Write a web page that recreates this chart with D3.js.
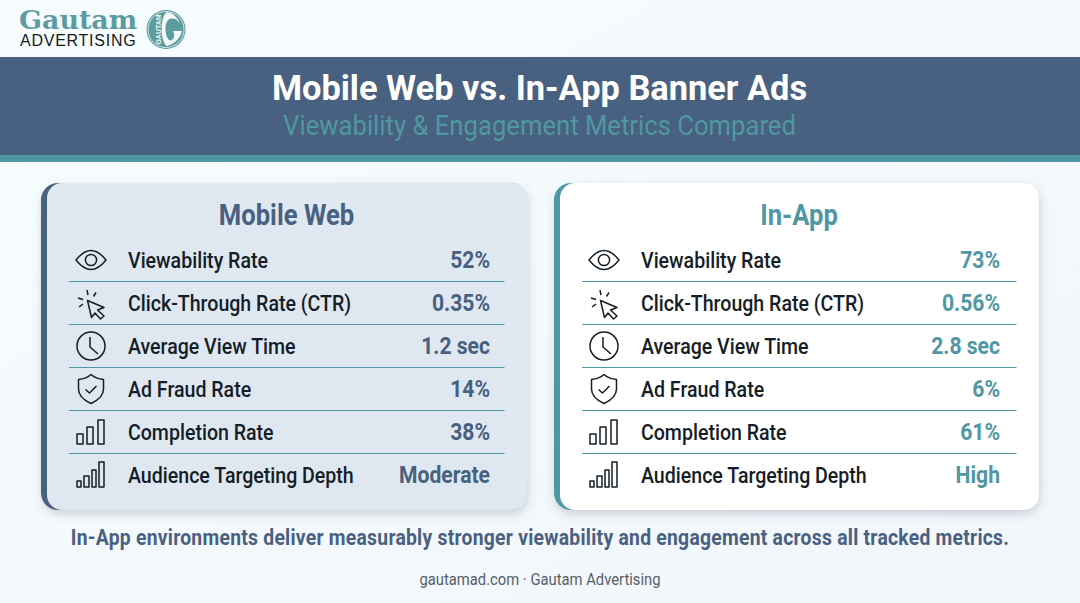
<!DOCTYPE html>
<html>
<head>
<meta charset="utf-8">
<script src="https://cdnjs.cloudflare.com/ajax/libs/d3/7.8.5/d3.min.js"></script>
<style>
  html, body { margin: 0; padding: 0; background: #f5fafd; }
  svg { display: block; font-family: Roboto, sans-serif; }
</style>
</head>
<body>
<script>
var metrics = ["Viewability Rate", "Click-Through Rate (CTR)", "Average View Time", "Ad Fraud Rate", "Completion Rate", "Audience Targeting Depth"];
var webValues = ["52%", "0.35%", "1.2 sec", "14%", "38%", "Moderate"];
var appValues = ["73%", "0.56%", "2.8 sec", "6%", "61%", "High"];
var iconNames = ["eye", "cursor", "clock", "shield", "bars3", "bars4"];
var panelNames = ["Mobile Web", "In-App"];

var w = 1080, h = 603;
var navy = "#486180", teal = "#5097a3", ink = "#151d26";

// icons are drawn around 0,0 in a box of about 30px
var icons = {
  eye: "M-15 0C-9 -7.5 -4.5 -9.5 0 -9.5C4.5 -9.5 9 -7.5 15 0C9 7.5 4.5 9.5 0 9.5C-4.5 9.5 -9 7.5 -15 0Z M5.6 0A5.6 5.6 0 1 1 -5.6 0A5.6 5.6 0 1 1 5.6 0Z",
  cursor: "M-3.5 -3.5L13 3.5L6.5 6L13 12L9.5 15L4 9L0.5 13.5Z M-13 -6L-8 -4.5 M-12 3L-8 0 M-4 -14L-3 -9 M5 -11.5L2.5 -7.5",
  clock: "M14 0A14 14 0 1 1 -14 0A14 14 0 1 1 14 0Z M-1 -9L-1 1L7 8",
  shield: "M0 -14.5C4 -11 8.5 -10 12.5 -9.5L12.5 0C12.5 7 6.5 11.5 0 14.5C-6.5 11.5 -12.5 7 -12.5 0L-12.5 -9.5C-8.5 -10 -4 -11 0 -14.5Z M-5.5 0.5L-1.5 4L5.5 -3",
  bars3: "M-14 2H-8V12H-14Z M-4 -5H2V12H-4Z M7 -12H13V12H7Z",
  bars4: "M-14 6H-10V12H-14Z M-7 1H-2V12H-7Z M1 -5H5V12H1Z M8 -13H13V12H8Z"
};

var svg = d3.select("body").append("svg")
  .attr("width", w)
  .attr("height", h)
  .attr("viewBox", "0 0 " + w + " " + h);

var defs = svg.append("defs");
var bg = defs.append("linearGradient").attr("id", "bg").attr("x1", 0).attr("y1", 0).attr("x2", 1).attr("y2", 1);
bg.append("stop").attr("offset", 0).attr("stop-color", "#f7fcfe");
bg.append("stop").attr("offset", 1).attr("stop-color", "#f1f6fb");
defs.append("filter").attr("id", "shadow")
  .attr("x", "-5%").attr("y", "-5%").attr("width", "110%").attr("height", "112%")
  .append("feDropShadow")
  .attr("dx", 1).attr("dy", 4).attr("stdDeviation", 5)
  .attr("flood-color", "#56677a").attr("flood-opacity", 0.28);

svg.append("rect").attr("width", w).attr("height", h).attr("fill", "url(#bg)");

// condensed look: Roboto squeezed sideways, anchor stays where it is
function label(g, x, y, str, o) {
  return g.append("text")
    .attr("transform", "translate(" + x + "," + y + ") scale(" + (o.sx || 1) + ",1)")
    .attr("text-anchor", o.anchor || "start")
    .attr("font-size", o.size)
    .attr("font-weight", o.weight || 400)
    .attr("font-family", o.family || null)
    .attr("letter-spacing", o.spacing || null)
    .attr("fill", o.fill)
    .text(str);
}

// logo
var logo = svg.append("g");
label(logo, 19, 28.5, "Gautam", { size: 26, weight: 700, family: "'DejaVu Serif', serif", fill: "#5c9ba0", sx: 1.035 });
label(logo, 20, 46, "ADVERTISING", { size: 16, family: "'Liberation Sans', sans-serif", fill: "#17191c", spacing: 0.75 });
logo.append("circle").attr("cx", 166).attr("cy", 29.5).attr("r", 19.5).attr("fill", "#5c9ba0");
logo.append("circle").attr("cx", 166).attr("cy", 29.5).attr("r", 18).attr("fill", "none").attr("stroke", "#eef6f6").attr("stroke-width", 0.8);
logo.append("path").attr("fill", "#f4f9f9")
  .attr("d", "M167 12C160 16 160 42 167 46C174 44 180 39 182 31L173 31C176 36 173 42 169 40C165 36 164 25 168 20C172 17 177 19 180 23C177 17 173 13 167 12Z");
logo.append("text")
  .attr("transform", "translate(161,29.5) rotate(-90)")
  .attr("text-anchor", "middle")
  .attr("font-size", 7)
  .attr("font-weight", 700)
  .attr("font-family", "'Liberation Sans', sans-serif")
  .attr("fill", "#f4f9f9")
  .text("GAUTAM");

// header band
svg.append("rect").attr("x", 0).attr("y", 57).attr("width", w).attr("height", 98).attr("fill", navy);
svg.append("rect").attr("x", 0).attr("y", 155).attr("width", w).attr("height", 7).attr("fill", teal);
label(svg, 539.5, 99.5, "Mobile Web vs. In-App Banner Ads", { size: 34.4, weight: 700, fill: "#ffffff", anchor: "middle" });
label(svg, 539.5, 134.5, "Viewability & Engagement Metrics Compared", { size: 28.5, fill: teal, anchor: "middle", sx: 0.9 });

var rowY = d3.scaleBand().domain(metrics).range([238.5, 496.5]);

var panelX = d3.scaleOrdinal().domain(panelNames).range([41, 554]);

function drawPanel(name, values, o) {
  var x0 = panelX(name);
  var g = svg.append("g").attr("transform", "translate(" + x0 + ",0)");
  g.append("rect").attr("x", 0).attr("y", 183).attr("width", o.width).attr("height", 327).attr("rx", 17)
    .attr("fill", o.accent).attr("filter", "url(#shadow)");
  g.append("rect").attr("x", 6).attr("y", 183).attr("width", o.width - 6).attr("height", 327).attr("rx", 15)
    .attr("fill", o.fill);

  label(g, o.headX, 225, name, { size: 30, weight: 700, fill: o.accent, anchor: "middle", sx: 0.855 });

  // separators between the rows
  g.selectAll("line.sep")
    .data(metrics.slice(1))
    .enter().append("line")
    .attr("class", "sep")
    .attr("x1", 28).attr("x2", o.width - 22.5)
    .attr("y1", function (d) { return rowY(d); })
    .attr("y2", function (d) { return rowY(d); })
    .attr("stroke", teal).attr("stroke-width", 1.1);

  metrics.forEach(function (m, i) {
    var cy = rowY(m) + rowY.bandwidth() / 2;
    g.append("path")
      .attr("transform", "translate(50," + (cy + (i === 1 ? 1 : 0)) + ")")
      .attr("d", icons[iconNames[i]])
      .attr("fill", "none").attr("stroke", ink).attr("stroke-width", 1.5).attr("stroke-linejoin", "round");
    label(g, 87, cy + 7.5, m, { size: 22.5, weight: 500, fill: ink, sx: 0.87 });
    label(g, o.valueX, cy + 8, values[i], { size: 24, weight: 700, fill: o.accent, anchor: "end", sx: 0.88 });
  });
}

drawPanel("Mobile Web", webValues, { width: 486, fill: "#dfe8f1", accent: navy, headX: 245.5, valueX: 449 });
drawPanel("In-App", appValues, { width: 485, fill: "#ffffff", accent: teal, headX: 245, valueX: 446 });

label(svg, 540, 545, "In-App environments deliver measurably stronger viewability and engagement across all tracked metrics.",
  { size: 21.5, weight: 700, fill: "#4a6080", anchor: "middle", sx: 0.898, spacing: 0.3 });
label(svg, 540, 585, "gautamad.com \u00b7 Gautam Advertising", { size: 16.5, fill: "#565f68", anchor: "middle", sx: 0.897 });
</script>
</body>
</html>
